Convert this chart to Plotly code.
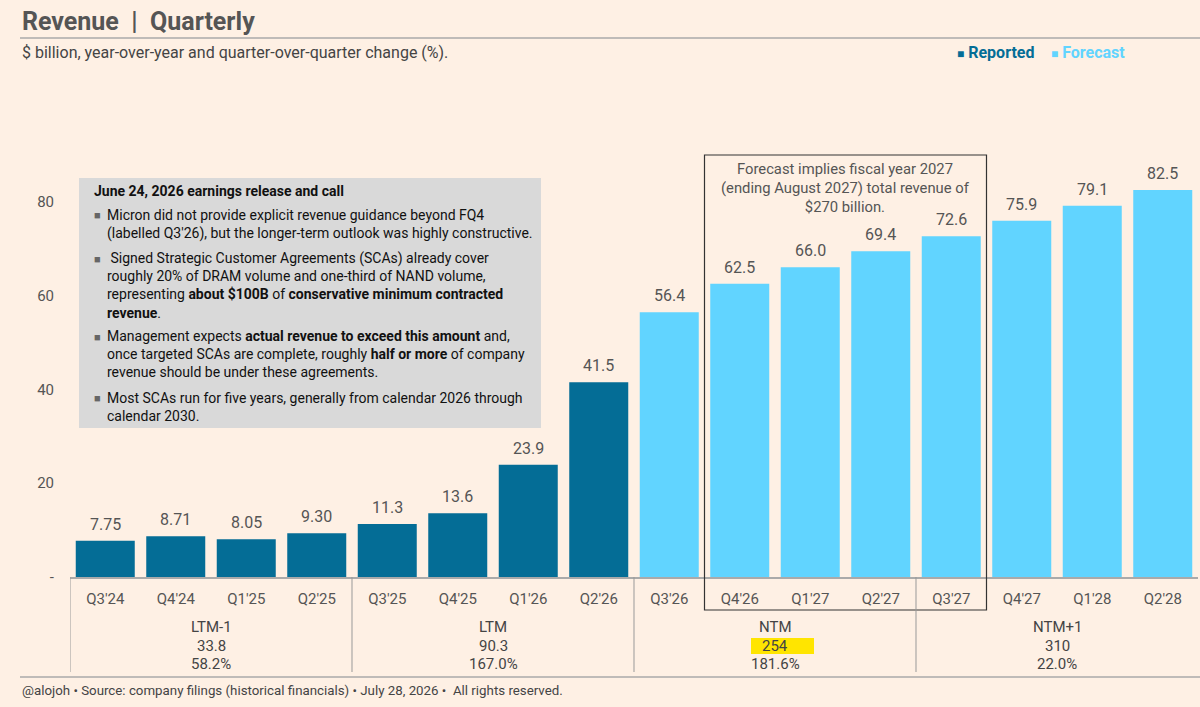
import plotly.graph_objects as go

# Data
quarters = ["Q3'24", "Q4'24", "Q1'25", "Q2'25", "Q3'25", "Q4'25", "Q1'26", "Q2'26",
            "Q3'26", "Q4'26", "Q1'27", "Q2'27", "Q3'27", "Q4'27", "Q1'28", "Q2'28"]
revenue = [7.75, 8.71, 8.05, 9.30, 11.3, 13.6, 23.9, 41.5,
           56.4, 62.5, 66.0, 69.4, 72.6, 75.9, 79.1, 82.5]
n_reported = 8

groups = ["LTM-1", "LTM", "NTM", "NTM+1"]
group_totals = ["33.8", "90.3", "254", "310"]
group_growth = ["58.2%", "167.0%", "181.6%", "22.0%"]

y_ticks = [0, 20, 40, 60, 80]
y_ticktext = ["-", "20", "40", "60", "80"]

REPORTED = "#046D96"
FORECAST = "#61D4FF"
BG = "#FEF0E4"
TXT = "#555555"
FONT = "Roboto"

# pixel -> paper helpers (plot area 70..1198 x 150..577)
L, R, T, B = 70, 1198, 150, 577


def px(x):
    return (x - L) / (R - L)


def py(y):
    return (B - y) / (B - T)


fig = go.Figure()
fig.add_trace(go.Bar(x=quarters[:n_reported], y=revenue[:n_reported],
                     marker=dict(color=REPORTED, line=dict(width=0)), name="Reported"))
fig.add_trace(go.Bar(x=quarters[n_reported:], y=revenue[n_reported:],
                     marker=dict(color=FORECAST, line=dict(width=0)), name="Forecast"))


def fmt(v):
    return f"{v:.2f}" if v < 10 else f"{v:.1f}"


def note(x, y, text, size, color, xanchor="left", **kw):
    return dict(x=px(x), y=py(y), xref="paper", yref="paper", xanchor=xanchor,
                yanchor="middle", text=text, showarrow=False,
                font=dict(size=size, color=color), **kw)


ann = []
# bar value labels
for q, v in zip(quarters, revenue):
    ann.append(dict(x=q, y=v, xref="x", yref="y", text=fmt(v), showarrow=False,
                    xanchor="center", yanchor="bottom", yshift=5,
                    font=dict(size=16, color=TXT)))

# titles, legend, footer
ann.append(note(20, 22, "<b>Revenue\u00a0\u00a0|\u00a0\u00a0Quarterly</b>", 25, "#555555"))
ann.append(note(20, 53, "$ billion, year-over-year and quarter-over-quarter change (%).", 16, "#444444"))
ann.append(note(955, 53, "<span style='font-size:12px'>\u25A0</span> <b>Reported</b>", 16, REPORTED))
ann.append(note(1049, 53, "<span style='font-size:12px'>\u25A0</span> <b>Forecast</b>", 16, FORECAST))
ann.append(note(20, 690, "@alojoh \u2022 Source: company filings (historical financials) \u2022 "
                         "July 28, 2026 \u2022  All rights reserved.", 13.3, "#444444"))

# group table under the axis
for i, (g, t, p) in enumerate(zip(groups, group_totals, group_growth)):
    xc = 4 * i + 1.5
    for txt, yy in ((g, 627), (t, 646), (p, 664)):
        ann.append(dict(x=xc, y=py(yy), xref="x", yref="paper", text=txt, showarrow=False,
                        xanchor="center", yanchor="middle",
                        font=dict(size=15, color="#444444")))

# forecast box text
ann.append(dict(x=10.5, y=py(188), xref="x", yref="paper", xanchor="center", yanchor="middle",
                text="Forecast implies fiscal year 2027<br>(ending August 2027) total revenue of<br>$270 billion.",
                showarrow=False, font=dict(size=14.8, color=TXT)))

# commentary box
ann.append(note(92, 191, "<b>June 24, 2026 earnings release and call</b>", 14, "#111111"))
paras = [
    ("Micron did not provide explicit revenue guidance beyond FQ4<br>"
     "(labelled Q3'26), but the longer-term outlook was highly constructive.", 216, 2),
    (" Signed Strategic Customer Agreements (SCAs) already cover<br>"
     "roughly 20% of DRAM volume and one-third of NAND volume,<br>"
     "representing <b>about $100B</b> of <b>conservative minimum contracted</b><br>"
     "<b>revenue</b>.", 259, 4),
    ("Management expects <b>actual revenue to exceed this amount</b> and,<br>"
     "once targeted SCAs are complete, roughly <b>half or more</b> of company<br>"
     "revenue should be under these agreements.", 337, 3),
    ("Most SCAs run for five years, generally from calendar 2026 through<br>"
     "calendar 2030.", 398, 2),
]
LH = 17.4
for text, y_first, nlines in paras:
    yc = y_first + (nlines - 1) * LH / 2
    ann.append(note(105, yc, text, 14, "#111111", align="left"))
    ann.append(note(97, y_first, "\u25A0", 11, "#666666", xanchor="center"))

shapes = [
    # title rule and bottom rule
    dict(type="line", xref="paper", yref="paper", x0=px(20), x1=px(1200), y0=py(38), y1=py(38),
         line=dict(color="#aaaaaa", width=1.5)),
    dict(type="line", xref="paper", yref="paper", x0=px(20), x1=px(1200), y0=py(677), y1=py(677),
         line=dict(color="#aaaaaa", width=1.5)),
    # commentary box
    dict(type="rect", xref="paper", yref="paper", x0=px(79), x1=px(541), y0=py(428), y1=py(178),
         fillcolor="#D9D9D9", line=dict(width=0), layer="above"),
    # highlight behind NTM total
    dict(type="rect", xref="paper", yref="paper", x0=px(751), x1=px(814), y0=py(654), y1=py(638),
         fillcolor="#FFE500", line=dict(width=0), layer="below"),
    # forecast box
    dict(type="rect", xref="x", yref="paper", x0=8.5, x1=12.5, y0=py(610), y1=py(155),
         line=dict(color="#333333", width=1.2), fillcolor="rgba(0,0,0,0)"),
]
for xs in (-0.5, 3.5, 7.5, 11.5):
    shapes.append(dict(type="line", xref="x", yref="paper", x0=xs, x1=xs, y0=0, y1=py(672),
                       line=dict(color="#999999", width=1)))

fig.update_layout(
    width=1200, height=707,
    margin=dict(l=L, r=1200 - R, t=T, b=707 - B),
    paper_bgcolor=BG, plot_bgcolor=BG,
    font=dict(family=FONT, color=TXT),
    barmode="relative", bargap=0.163,
    showlegend=False,
    annotations=ann, shapes=shapes,
)
fig.update_xaxes(type="category", categoryorder="array", categoryarray=quarters,
                 range=[-0.5, len(quarters) - 0.5],
                 showline=True, linecolor="#aaaaaa", linewidth=1.5,
                 ticks="outside", ticklen=7, tickcolor="rgba(0,0,0,0)",
                 tickfont=dict(size=15, color=TXT), showgrid=False)
fig.update_yaxes(range=[0, 91], tickvals=y_ticks, ticktext=y_ticktext,
                 ticks="outside", ticklen=12, tickcolor="rgba(0,0,0,0)",
                 tickfont=dict(size=15, color=TXT), showgrid=False, zeroline=False,
                 showline=False)

fig.write_html("out.html", config={"displayModeBar": False},
               post_script="document.body.style.margin='0';")
